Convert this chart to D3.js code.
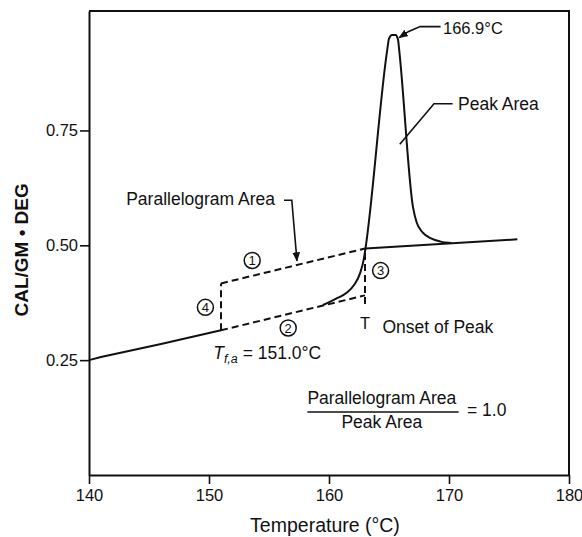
<!DOCTYPE html>
<html>
<head>
<meta charset="utf-8">
<script src="https://cdn.jsdelivr.net/npm/d3@7"></script>
<style>
  body { margin: 0; background: #fff; }
  text { font-family: "Liberation Sans", Arial, sans-serif; fill: #111; }
</style>
</head>
<body>
<div id="chart"></div>
<script>
// axis ticks
const xTicks = [140, 150, 160, 170, 180];
const yTicks = [0.25, 0.50, 0.75];

// DSC trace (temperature, cal/gm.deg)
const preMelt = [[140, 0.25], [141, 0.257], [146, 0.285], [151, 0.315]];
const meltPeak = [[159.5, 0.370], [160.6, 0.384], [161.5, 0.397], [162.1, 0.414], [162.6, 0.44],
  [162.9, 0.47], [163.05, 0.495], [164.85, 0.925], [165.0, 0.950], [165.25, 0.958], [165.55, 0.958],
  [165.75, 0.948], [165.85, 0.925], [167.0, 0.583], [167.3, 0.55], [167.8, 0.528], [168.5, 0.515],
  [169.3, 0.508], [170.2, 0.505]];
const postBaseline = [[163.05, 0.493], [175.7, 0.513]];

// parallelogram sides (dashed)
const side1 = [[151, 0.417], [163, 0.493]];
const side2 = [[151, 0.315], [163, 0.391]];
const side3 = [[163, 0.372], [163, 0.493]];
const side4 = [[151, 0.315], [151, 0.417]];

// circled side numbers
const sideLabels = [
  {n: "1", t: 153.6, v: 0.467},
  {n: "2", t: 156.6, v: 0.320},
  {n: "3", t: 164.3, v: 0.445},
  {n: "4", t: 149.7, v: 0.365}
];

const width = 582, height = 537;
const margin = {top: 11, right: 13, bottom: 62, left: 89};

const svg = d3.select("#chart").append("svg")
  .attr("width", width)
  .attr("height", height);

svg.append("rect").attr("width", width).attr("height", height).attr("fill", "#fff");

const x = d3.scaleLinear()
  .domain([140, 180])
  .range([margin.left, width - margin.right]);

const y = d3.scaleLinear()
  .domain([0, 1.01])
  .range([height - margin.bottom, margin.top]);

// frame top and right
svg.append("path")
  .attr("d", `M${x(140)},${y(1.01)}H${x(180)}V${y(0)}`)
  .attr("fill", "none")
  .attr("stroke", "#111")
  .attr("stroke-width", 2);

// x axis
const xAxis = svg.append("g")
  .attr("transform", `translate(0,${y(0)})`)
  .call(d3.axisBottom(x).tickValues(xTicks).tickSize(9).tickSizeOuter(0).tickPadding(5));

// y axis
const yAxis = svg.append("g")
  .attr("transform", `translate(${x(140)},0)`)
  .call(d3.axisLeft(y).tickValues(yTicks).tickFormat(d3.format(".2f")).tickSize(9).tickSizeOuter(0).tickPadding(2));

[xAxis, yAxis].forEach(g => {
  g.select(".domain").attr("stroke", "#111").attr("stroke-width", 2);
  g.selectAll(".tick line").attr("stroke", "#111").attr("stroke-width", 1.6);
  g.selectAll(".tick text")
    .style("font-family", "'Liberation Sans', Arial, sans-serif")
    .style("font-size", "16.5px")
    .attr("fill", "#111");
});

// axis titles
svg.append("text")
  .attr("x", (x(140) + x(180)) / 2 - 4)
  .attr("y", 532)
  .attr("text-anchor", "middle")
  .style("font-size", "19.5px")
  .text("Temperature (°C)");

svg.append("text")
  .attr("transform", `translate(28,${y(0.49)}) rotate(-90)`)
  .attr("text-anchor", "middle")
  .style("font-size", "19px")
  .style("font-weight", "bold")
  .text("CAL/GM • DEG");

// curves
const line = d3.line()
  .x(d => x(d[0]))
  .y(d => y(d[1]));

const solid = (data, curve) => svg.append("path")
  .datum(data)
  .attr("fill", "none")
  .attr("stroke", "#111")
  .attr("stroke-width", 2)
  .attr("d", line.curve(curve || d3.curveLinear));

const dashed = data => svg.append("path")
  .datum(data)
  .attr("fill", "none")
  .attr("stroke", "#111")
  .attr("stroke-width", 2)
  .attr("stroke-dasharray", "7,4")
  .attr("d", line.curve(d3.curveLinear));

solid(preMelt);
solid(meltPeak, d3.curveMonotoneX);
solid(postBaseline);
[side1, side2, side3, side4].forEach(dashed);

// arrowhead marker
svg.append("defs").append("marker")
  .attr("id", "arrow")
  .attr("viewBox", "0 0 10 10")
  .attr("refX", 9).attr("refY", 5)
  .attr("markerWidth", 6).attr("markerHeight", 6)
  .attr("orient", "auto")
  .append("path")
  .attr("d", "M0,1L10,5L0,9Z")
  .attr("fill", "#111");

const leader = pts => svg.append("path")
  .datum(pts)
  .attr("fill", "none")
  .attr("stroke", "#111")
  .attr("stroke-width", 1.6)
  .attr("marker-end", "url(#arrow)")
  .attr("d", line.curve(d3.curveLinear));

const label = (t, v, txt, size, anchor) => svg.append("text")
  .attr("x", x(t))
  .attr("y", y(v))
  .attr("text-anchor", anchor || "start")
  .style("font-size", (size || 17.5) + "px")
  .text(txt);

// Parallelogram Area leader
label(143.1, 0.587, "Parallelogram Area");
leader([[156.25, 0.598], [156.9, 0.598], [157.33, 0.466]]);

// peak temperature
leader([[169.3, 0.976], [167.6, 0.976], [166.6, 0.965], [165.85, 0.952]]);
label(169.5, 0.961, "166.9°C", 16.5);

// Peak Area
svg.append("path")
  .datum([[165.9, 0.72], [168.75, 0.808], [170.3, 0.808]])
  .attr("fill", "none")
  .attr("stroke", "#111")
  .attr("stroke-width", 1.6)
  .attr("d", line.curve(d3.curveLinear));
label(170.75, 0.795, "Peak Area");

// circled numbers
const circ = svg.selectAll(".side-label")
  .data(sideLabels)
  .join("g")
  .attr("class", "side-label")
  .attr("transform", d => `translate(${x(d.t)},${y(d.v)})`);
circ.append("circle")
  .attr("r", 8)
  .attr("fill", "#fff")
  .attr("stroke", "#111")
  .attr("stroke-width", 1.5);
circ.append("text")
  .attr("text-anchor", "middle")
  .attr("dy", "0.36em")
  .style("font-size", "13px")
  .text(d => d.n);

// onset marker
label(163, 0.318, "T", 16.5, "middle");
label(164.45, 0.31, "Onset of Peak");

// T f,a
const tfa = svg.append("text")
  .attr("x", x(150.35))
  .attr("y", y(0.252))
  .style("font-size", "17.5px");
tfa.append("tspan").style("font-style", "italic").text("T");
tfa.append("tspan").style("font-style", "italic").style("font-size", "12.5px").attr("dy", 4).text("f,a");
tfa.append("tspan").attr("dy", -4).text(" = 151.0°C");

// ratio
label(164.4, 0.154, "Parallelogram Area", 17.5, "middle");
svg.append("line")
  .attr("x1", x(158.2)).attr("x2", x(170.8))
  .attr("y1", y(0.137)).attr("y2", y(0.137))
  .attr("stroke", "#111").attr("stroke-width", 1.4);
label(164.4, 0.102, "Peak Area", 17.5, "middle");
label(171.5, 0.128, "= 1.0");
</script>
</body>
</html>
